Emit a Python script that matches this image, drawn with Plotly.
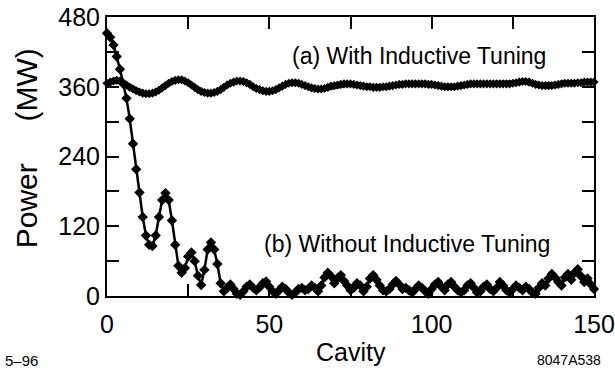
import plotly.graph_objects as go

cavity = list(range(0, 151))

power_a = [366, 368, 370, 371, 370, 367, 363, 359, 356, 353,
           351, 349, 348, 348, 349, 351, 354, 358, 362, 366,
           369, 371, 372, 372, 370, 367, 363, 359, 355, 352,
           350, 349, 349, 350, 352, 355, 359, 363, 366, 368,
           370, 370, 369, 367, 364, 360, 357, 355, 353, 352,
           352, 353, 355, 358, 361, 364, 366, 367, 367, 366,
           364, 362, 360, 358, 357, 356, 356, 357, 359, 361,
           362, 363, 364, 365, 365, 365, 364, 363, 362, 361,
           360, 360, 359, 359, 359, 360, 360, 361, 362, 363,
           364, 364, 365, 365, 365, 365, 365, 365, 365, 364,
           364, 363, 362, 361, 360, 360, 360, 360, 361, 362,
           363, 364, 365, 365, 365, 365, 365, 365, 365, 365,
           365, 365, 365, 365, 365, 366, 367, 368, 369, 369,
           368, 366, 364, 363, 362, 362, 362, 362, 363, 364,
           365, 366, 366, 366, 366, 367, 367, 368, 368, 368,
           368]

power_b = [452, 445, 432, 412, 390, 365, 340, 305, 262, 218,
           178, 136, 104, 88, 86, 104, 136, 165, 177, 165,
           130, 88, 52, 40, 48, 68, 75, 60, 35, 19,
           45, 80, 92, 80, 55, 22, 8, 14, 20, 12,
           4, 2, 8, 16, 20, 14, 10, 15, 22, 25,
           16, 8, 4, 10, 16, 12, 6, 2, 6, 12,
           14, 10, 12, 18, 14, 8, 18, 32, 40, 34,
           22, 30, 36, 26, 18, 10, 14, 22, 18, 8,
           16, 30, 36, 28, 18, 10, 8, 12, 20, 26,
           20, 12, 14, 10, 6, 12, 18, 14, 8, 4,
           12, 20, 24, 16, 10, 20, 24, 16, 10, 6,
           10, 18, 22, 14, 6, 8, 16, 20, 12, 8,
           14, 24, 18, 10, 6, 12, 18, 14, 10, 16,
           12, 6, 4, 14, 22, 18, 30, 38, 32, 24,
           18, 32, 38, 28, 40, 46, 34, 24, 30, 20,
           12]

y_tickvals = [0, 60, 120, 180, 240, 300, 360, 420, 480]
y_ticktext = ["0", "", "120", "", "240", "", "360", "", "480"]
x_tickvals = [0, 25, 50, 75, 100, 125, 150]
x_ticktext = ["0", "", "50", "", "100", "", "150"]

FONT = "Liberation Sans, Arial, sans-serif"

fig = go.Figure()
fig.add_trace(go.Scatter(
    x=cavity, y=power_a, mode="lines+markers",
    line=dict(color="black", width=5),
    marker=dict(symbol="diamond", size=7, color="black"),
    showlegend=False, cliponaxis=False))
fig.add_trace(go.Scatter(
    x=cavity, y=power_b, mode="lines+markers",
    line=dict(color="black", width=2.5),
    marker=dict(symbol="diamond", size=8, color="black"),
    showlegend=False, cliponaxis=False))

fig.update_layout(
    width=615, height=375,
    margin=dict(l=107, r=21, t=17, b=79, autoexpand=False),
    paper_bgcolor="white", plot_bgcolor="white",
    font=dict(family=FONT, color="black"),
    xaxis=dict(range=[0, 150], tickvals=x_tickvals, ticktext=x_ticktext,
               ticks="inside", ticklen=12, tickwidth=1.5, tickcolor="black",
               showline=True, linecolor="black", linewidth=2, mirror="ticks",
               showgrid=False, zeroline=False, ticklabelstandoff=5,
               ticklabeloverflow="allow", automargin=False,
               tickfont=dict(size=25, family=FONT)),
    yaxis=dict(range=[0, 480], tickvals=y_tickvals, ticktext=y_ticktext,
               ticks="inside", ticklen=12, tickwidth=1.5, tickcolor="black",
               showline=True, linecolor="black", linewidth=2, mirror="ticks",
               showgrid=False, zeroline=False, ticklabeloverflow="allow",
               automargin=False,
               tickfont=dict(size=25, family=FONT)),
)

fig.add_annotation(xref="paper", yref="paper", x=-0.166, y=0.53,
                   xanchor="center", yanchor="middle",
                   text="Power     (MW)", textangle=-90, showarrow=False,
                   font=dict(size=30, family=FONT))
fig.add_annotation(xref="paper", yref="paper", x=0.501, y=-0.2,
                   xanchor="center", yanchor="middle",
                   text="Cavity", showarrow=False, font=dict(size=25, family=FONT))
fig.add_annotation(xref="x", yref="y", x=96, y=413, text="(a) With Inductive Tuning",
                   xanchor="center", yanchor="middle",
                   showarrow=False, font=dict(size=23, family=FONT))
fig.add_annotation(xref="x", yref="y", x=92.5, y=90, text="(b) Without Inductive Tuning",
                   xanchor="center", yanchor="middle",
                   showarrow=False, font=dict(size=23, family=FONT))
fig.add_annotation(xref="paper", yref="paper", x=-0.214, y=-0.195, xanchor="left",
                   yanchor="top", text="5\u201396", showarrow=False,
                   font=dict(size=15, family=FONT))
fig.add_annotation(xref="paper", yref="paper", x=1.018, y=-0.195, xanchor="right",
                   yanchor="top", text="8047A538", showarrow=False,
                   font=dict(size=14, family=FONT))

fig.write_html("out.html")
